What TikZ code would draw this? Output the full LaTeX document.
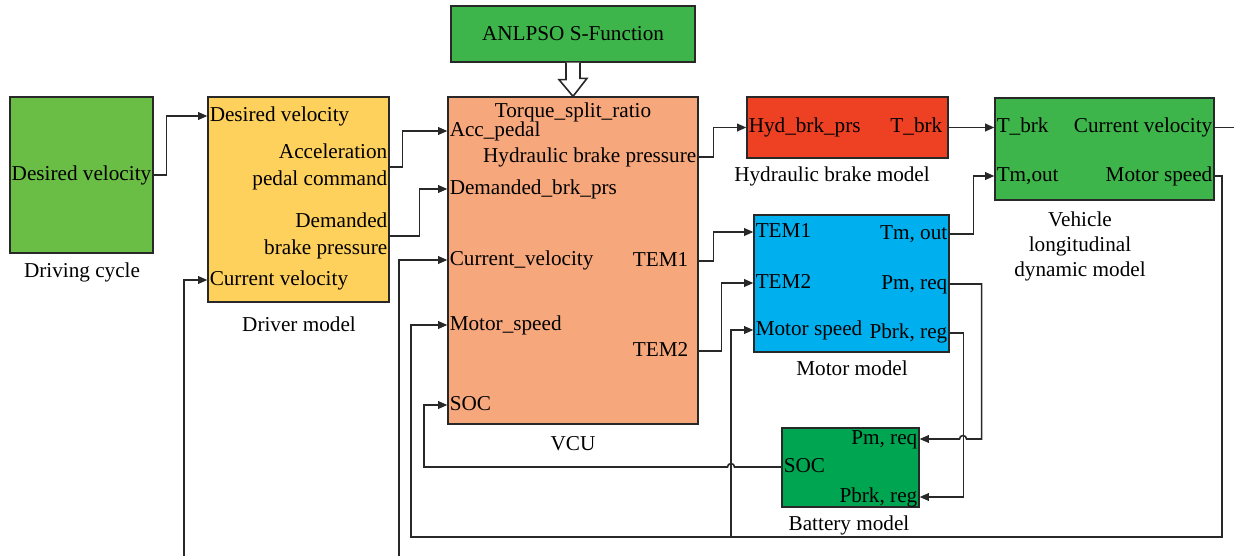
\documentclass[tikz,border=0pt]{standalone}
\usepackage{fontspec}
\setmainfont{Liberation Serif}
\usepackage{xcolor}
\usetikzlibrary{arrows.meta,positioning,calc}
\definecolor{cyclegreen}{RGB}{106,189,69}
\definecolor{driveryellow}{RGB}{254,208,92}
\definecolor{vcusalmon}{RGB}{247,167,124}
\definecolor{optgreen}{RGB}{61,181,74}
\definecolor{brakered}{RGB}{238,64,35}
\definecolor{motorblue}{RGB}{0,176,238}
\definecolor{batgreen}{RGB}{0,165,81}
\definecolor{linegray}{RGB}{40,40,40}

\begin{document}
\begin{tikzpicture}[
  x=0.5pt,y=-0.5pt,
  font=\fontsize{10.6}{13}\selectfont,
  blk/.style={draw=linegray,line width=0.65pt,inner sep=0pt},
  pin/.style={inner xsep=1pt,inner ysep=0pt,text height=7.4pt,text depth=2.2pt},
  pin2/.style={inner xsep=1pt,inner ysep=0pt,align=right,font=\fontsize{10.6}{13.5}\selectfont},
  blkname/.style={align=center},
  ln/.style={draw=linegray,line width=0.8pt},
  arr/.style={-{Triangle[length=4.6pt,width=3.8pt]},draw=linegray,line width=0.8pt}
]
\fill[white] (0,0) rectangle (1234,556);
\useasboundingbox (0,0) rectangle (1234,556);

\node[blk,fill=cyclegreen,minimum width=71.5pt,minimum height=78pt] (cyc) at (81.5,175) {};
\node[blk,fill=driveryellow,minimum width=90.5pt,minimum height=102.5pt] (drv) at (298.5,199.5) {};
\node[blk,fill=vcusalmon,minimum width=125pt,minimum height=163.5pt] (vcu) at (573,260.5) {};
\node[blk,fill=optgreen,minimum width=122pt,minimum height=28pt] (opt) at (573,34) {ANLPSO S-Function};
\node[blk,fill=brakered,minimum width=100.5pt,minimum height=30.5pt] (hyd) at (847.5,127.5) {};
\node[blk,fill=optgreen,minimum width=109.5pt,minimum height=51pt] (veh) at (1104.5,149) {};
\node[blk,fill=motorblue,minimum width=97.5pt,minimum height=68.5pt] (mot) at (851.5,283.5) {};
\node[blk,fill=batgreen,minimum width=68.5pt,minimum height=39.5pt] (bat) at (850.5,467.5) {};

\node[pin,anchor=west] (cyc-dv) at (cyc.west) {Desired velocity};

\node[pin,anchor=west] (drv-dv) at (drv.west |- 0,116) {Desired velocity};
\node[pin2,anchor=east] (drv-acc) at (drv.east |- 0,167) {Acceleration\\pedal command};
\node[pin2,anchor=east] (drv-brk) at (drv.east |- 0,236) {Demanded\\brake pressure};
\node[pin,anchor=west] (drv-cv) at (drv.west |- 0,280) {Current velocity};

\node[pin,anchor=north,yshift=-3pt] (vcu-tsr) at (vcu.north) {Torque\_split\_ratio};
\node[pin,anchor=west] (vcu-acc) at (vcu.west |- 0,131) {Acc\_pedal};
\node[pin,anchor=east] (vcu-hyd) at (vcu.east |- 0,157) {Hydraulic brake pressure};
\node[pin,anchor=west] (vcu-dbp) at (vcu.west |- 0,189) {Demanded\_brk\_prs};
\node[pin,anchor=west] (vcu-cv) at (vcu.west |- 0,260) {Current\_velocity};
\node[pin,anchor=east,xshift=-4pt] (vcu-tem1) at (vcu.east |- 0,261) {TEM1};
\node[pin,anchor=west] (vcu-ms) at (vcu.west |- 0,325) {Motor\_speed};
\node[pin,anchor=east,xshift=-4pt] (vcu-tem2) at (vcu.east |- 0,351) {TEM2};
\node[pin,anchor=west] (vcu-soc) at (vcu.west |- 0,405) {SOC};

\node[pin,anchor=west] (hyd-in) at (hyd.west) {Hyd\_brk\_prs};
\node[pin,anchor=east,xshift=-2pt] (hyd-out) at (hyd.east) {T\_brk};

\node[pin,anchor=west] (veh-tb) at (veh.west |- hyd.east) {T\_brk};
\node[pin,anchor=east] (veh-cv) at (veh.east |- hyd.east) {Current velocity};
\node[pin,anchor=west] (veh-tm) at (veh.west |- 0,176) {Tm,out};
\node[pin,anchor=east] (veh-ms) at (veh.east |- 0,176) {Motor speed};

\node[pin,anchor=west] (mot-t1) at (mot.west |- 0,232) {TEM1};
\node[pin,anchor=east] (mot-tm) at (mot.east |- 0,234) {Tm, out};
\node[pin,anchor=west] (mot-t2) at (mot.west |- 0,283) {TEM2};
\node[pin,anchor=east] (mot-pm) at (mot.east |- 0,284) {Pm, req};
\node[pin,anchor=west] (mot-ms) at (mot.west |- 0,330) {Motor speed};
\node[pin,anchor=east] (mot-pb) at (mot.east |- 0,333) {Pbrk, reg};

\node[pin,anchor=east] (bat-pm) at (bat.east |- 0,439) {Pm, req};
\node[pin,anchor=west] (bat-soc) at (bat.west |- 0,467) {SOC};
\node[pin,anchor=east] (bat-pb) at (bat.east |- 0,497) {Pbrk, reg};

\node[blkname] (cyc-name) at (82,272) {Driving cycle};
\node[blkname] (drv-name) at (299,324) {Driver model};
\node[blkname] (vcu-name) at (573,444) {VCU};
\node[blkname] (hyd-name) at (832,176) {Hydraulic brake model};
\node[blkname,font=\fontsize{10.6}{12.5}\selectfont] (veh-name) at (1080,246) {Vehicle\\longitudinal\\dynamic model};
\node[blkname] (mot-name) at (852,368) {Motor model};
\node[blkname] (bat-name) at (849,525) {Battery model};

\coordinate (cv-drv) at (184,556);
\coordinate (cv-vcu) at (399,556);
\coordinate (cv-out) at (veh-cv.east -| 1234,0);
\coordinate (fb-r) at (1222,537);
\coordinate (fb-l) at (411,537);
\coordinate (fb-m) at (731,537);

\draw[ln,fill=white] ($(opt.south)+(-7,0)$) -- ++(0,17) -- ++(-7,0) -- (vcu.north) -- ++(14,-18) -- ++(-7,0) -- ($(opt.south)+(7,0)$);

\draw[arr] (cyc.east) -- ++(13,0) |- (drv-dv.west);
\draw[arr] (drv-acc.east) -- ++(13,0) |- (vcu-acc.west);
\draw[arr] (drv-brk.east) -- ++(30,0) |- (vcu-dbp.west);
\draw[arr] (vcu-hyd.east) -- ++(15,0) |- (hyd-in.west);
\draw[arr] (hyd.east) -- (veh-tb.west);
\draw[ln] (veh-cv.east) -- (cv-out);
\draw[arr] (vcu.east |- vcu-tem1) -- ++(15,0) |- (mot-t1.west);
\draw[arr] (vcu.east |- vcu-tem2) -- ++(23,0) |- (mot-t2.west);
\draw[arr] (mot-tm.east) -- ++(24,0) |- (veh-tm.west);
\draw[arr] (mot-pm.east) -- ++(32,0) |- (966.5,439) arc[start angle=0,end angle=180,radius=1.75pt] -- (bat-pm.east);
\draw[arr] (mot-pb.east) -- ++(14,0) |- (bat-pb.east);
\draw[arr] (bat-soc.west) -- (734.5,467) arc[start angle=0,end angle=180,radius=1.75pt] -- (424,467) |- (vcu-soc.west);
\draw[arr] (veh-ms.east) -| (fb-r) -- (fb-l) |- (vcu-ms.west);
\draw[arr] (fb-m) |- (mot-ms.west);
\draw[arr] (cv-drv) |- (drv-cv.west);
\draw[arr] (cv-vcu) |- (vcu-cv.west);
\end{tikzpicture}
\end{document}
